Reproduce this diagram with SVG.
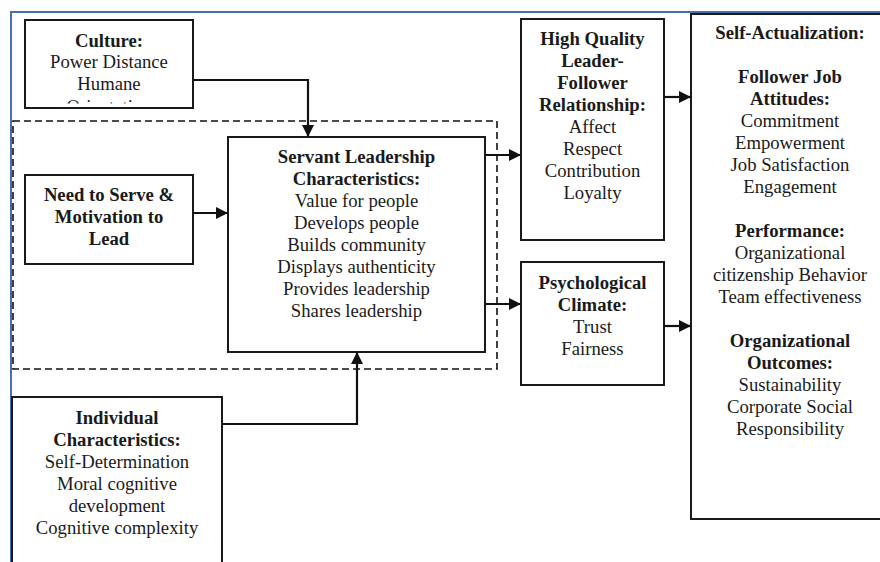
<svg xmlns="http://www.w3.org/2000/svg" width="880" height="562" viewBox="0 0 880 562">
<style>
.box{fill:#fff;stroke:#1a1a1a;stroke-width:2}
.t{font-family:"Liberation Serif","Times New Roman",serif;font-size:18.7px;fill:#1a1a1a;text-anchor:middle}
.b{font-weight:bold}
.c{fill:none;stroke:#111;stroke-width:2.2}
</style>
<defs>
<marker id="ah" markerUnits="userSpaceOnUse" markerWidth="12" markerHeight="12" refX="12" refY="6" orient="auto">
<path d="M0,0 L12,6 L0,12 z" fill="#111"/>
</marker>
<clipPath id="cc"><rect x="26" y="21" width="166" height="82.5"/></clipPath>
</defs>
<rect x="0" y="0" width="880" height="562" fill="#fff"/>
<g id="frame" fill="none" stroke="#4472a8" stroke-width="2">
<path d="M880,12 L11,12 L11,562"/>
</g>
<g id="dashed-group">
<rect x="13" y="121" width="484" height="248" fill="none" stroke="#111" stroke-width="1.6" stroke-dasharray="7,4"/>
</g>
<g id="culture">
<rect class="box" x="25" y="20" width="168" height="88"/>
<g clip-path="url(#cc)">
<text class="t b" x="109" y="47">Culture:</text>
<text class="t" x="109" y="68">Power Distance</text>
<text class="t" x="109" y="90">Humane</text>
<text class="t" x="109" y="113">Orientation</text>
</g>
</g>
<g id="need">
<rect class="box" x="25" y="175" width="168" height="89"/>
<text class="t b" x="109" y="201">Need to Serve &amp;</text>
<text class="t b" x="109" y="223">Motivation to</text>
<text class="t b" x="109" y="245">Lead</text>
</g>
<g id="servant">
<rect class="box" x="228" y="137" width="257" height="215"/>
<text class="t b" x="356.5" y="163">Servant Leadership</text>
<text class="t b" x="356.5" y="185">Characteristics:</text>
<text class="t" x="356.5" y="207">Value for people</text>
<text class="t" x="356.5" y="229">Develops people</text>
<text class="t" x="356.5" y="251">Builds community</text>
<text class="t" x="356.5" y="273">Displays authenticity</text>
<text class="t" x="356.5" y="295">Provides leadership</text>
<text class="t" x="356.5" y="317">Shares leadership</text>
</g>
<g id="individual">
<rect class="box" x="12" y="397" width="210" height="175"/>
<text class="t b" x="117" y="424">Individual</text>
<text class="t b" x="117" y="446">Characteristics:</text>
<text class="t" x="117" y="468">Self-Determination</text>
<text class="t" x="117" y="490">Moral cognitive</text>
<text class="t" x="117" y="512">development</text>
<text class="t" x="117" y="534">Cognitive complexity</text>
</g>
<g id="hq">
<rect class="box" x="521" y="19" width="143" height="221"/>
<text class="t b" x="592.5" y="45">High Quality</text>
<text class="t b" x="592.5" y="67">Leader-</text>
<text class="t b" x="592.5" y="89">Follower</text>
<text class="t b" x="592.5" y="111">Relationship:</text>
<text class="t" x="592.5" y="133">Affect</text>
<text class="t" x="592.5" y="155">Respect</text>
<text class="t" x="592.5" y="177">Contribution</text>
<text class="t" x="592.5" y="199">Loyalty</text>
</g>
<g id="psych">
<rect class="box" x="521" y="262" width="143" height="123"/>
<text class="t b" x="592.5" y="289">Psychological</text>
<text class="t b" x="592.5" y="311">Climate:</text>
<text class="t" x="592.5" y="333">Trust</text>
<text class="t" x="592.5" y="355">Fairness</text>
</g>
<g id="self">
<rect class="box" x="691" y="14" width="250" height="505"/>
<text class="t b" x="790" y="39">Self-Actualization:</text>
<text class="t b" x="790" y="83">Follower Job</text>
<text class="t b" x="790" y="105">Attitudes:</text>
<text class="t" x="790" y="127">Commitment</text>
<text class="t" x="790" y="149">Empowerment</text>
<text class="t" x="790" y="171">Job Satisfaction</text>
<text class="t" x="790" y="193">Engagement</text>
<text class="t b" x="790" y="237">Performance:</text>
<text class="t" x="790" y="259">Organizational</text>
<text class="t" x="790" y="281">citizenship Behavior</text>
<text class="t" x="790" y="303">Team effectiveness</text>
<text class="t b" x="790" y="347">Organizational</text>
<text class="t b" x="790" y="369">Outcomes:</text>
<text class="t" x="790" y="391">Sustainability</text>
<text class="t" x="790" y="413">Corporate Social</text>
<text class="t" x="790" y="435">Responsibility</text>
</g>
<g id="connectors">
<path class="c" d="M193,80 L308,80 L308,137" marker-end="url(#ah)"/>
<path class="c" d="M193,213 L228,213" marker-end="url(#ah)"/>
<path class="c" d="M222,424 L357,424 L357,352" marker-end="url(#ah)"/>
<path class="c" d="M485,155 L521,155" marker-end="url(#ah)"/>
<path class="c" d="M485,304 L521,304" marker-end="url(#ah)"/>
<path class="c" d="M664,97 L691,97" marker-end="url(#ah)"/>
<path class="c" d="M664,326 L691,326" marker-end="url(#ah)"/>
</g>
</svg>
